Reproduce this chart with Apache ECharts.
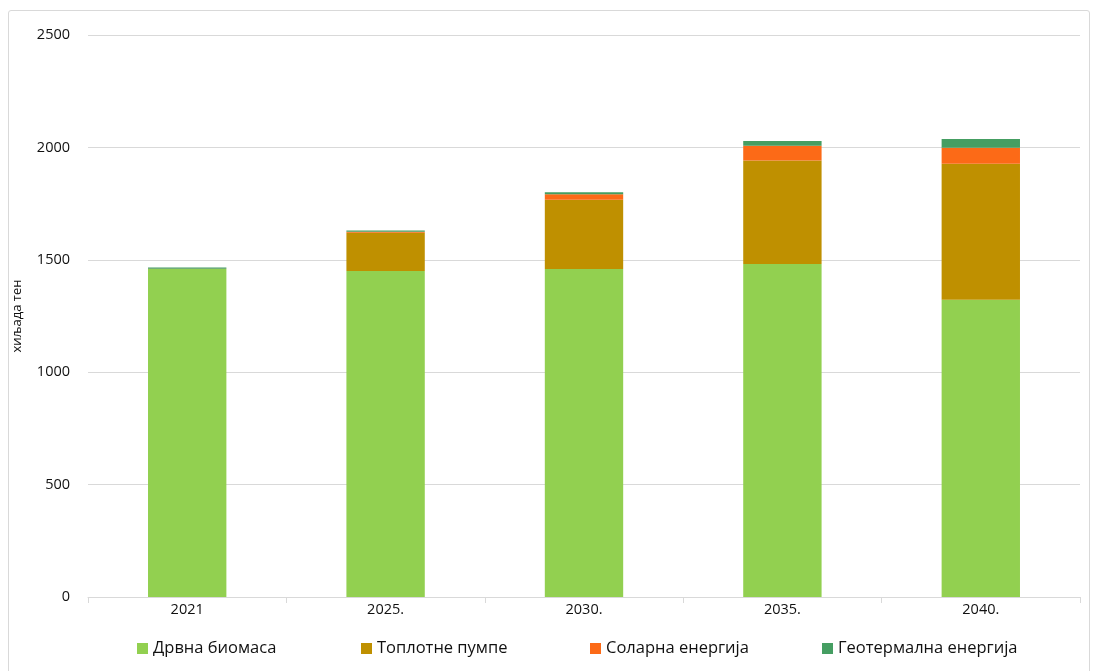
<!DOCTYPE html>
<html>
<head>
<meta charset="utf-8">
<script src="https://cdn.jsdelivr.net/npm/echarts@6/dist/echarts.min.js"></script>
<style>
html,body{margin:0;padding:0;background:#fff;}
#frame{position:absolute;left:8px;top:10px;width:1082px;height:670px;border:1px solid #d9d9d9;border-radius:3px;box-sizing:border-box;}
#chart{position:absolute;left:0;top:0;width:1093px;height:671px;}
</style>
</head>
<body>
<div id="frame"></div>
<div id="chart"></div>
<script>
const categories = ['2021', '2025.', '2030.', '2035.', '2040.'];
const woodBiomass = [1459, 1450, 1459, 1481, 1322];
const heatPumps = [0, 170, 308, 461, 605];
const solar = [1, 5, 25, 65, 71];
const geothermal = [6, 5, 8, 22, 39];
const yTicks = [0, 500, 1000, 1500, 2000, 2500];
const seriesNames = ['Дрвна биомаса', 'Топлотне пумпе', 'Соларна енергија', 'Геотермална енергија'];
const colors = ['#92D050', '#BF9000', '#FC6A17', '#459E62'];

const font = '"Open Sans", Lato, "Noto Sans", sans-serif';
const chart = echarts.init(document.getElementById('chart'));
const dataSets = [woodBiomass, heatPumps, solar, geothermal];
const legendLeft = [137, 361, 590, 822];

chart.setOption({
  animation: false,
  textStyle: {fontFamily: font},
  grid: {left: 88, right: 13, top: 35, bottom: 74},
  legend: seriesNames.map((n, i) => ({
    data: [n], left: legendLeft[i], top: 640, padding: 0, itemWidth: 11, itemHeight: 11, itemGap: 5,
    icon: 'rect', textStyle: {fontSize: 16.5, color: '#111', fontFamily: font}
  })),
  xAxis: {
    type: 'category', data: categories, boundaryGap: true,
    axisLine: {lineStyle: {color: '#d9d9d9', width: 1}},
    axisTick: {show: true, alignWithLabel: false, length: 6, lineStyle: {color: '#d9d9d9'}},
    axisLabel: {color: '#111', fontSize: 14.5, margin: 5}
  },
  yAxis: {
    type: 'value', min: 0, max: 2500, interval: 500,
    name: 'хиљада тен', nameLocation: 'middle', nameGap: 64, nameRotate: 90,
    nameTextStyle: {color: '#111', fontSize: 13},
    axisLine: {show: false}, axisTick: {show: false},
    axisLabel: {color: '#111', fontSize: 14.5, margin: 18,
      formatter: v => yTicks.includes(v) ? String(v) : ''},
    splitLine: {lineStyle: {color: '#d9d9d9', width: 1}}
  },
  series: dataSets.map((d, i) => ({
    name: seriesNames[i], type: 'bar', stack: 'total', data: d, barWidth: '39.5%',
    itemStyle: {color: colors[i]}
  }))
});
</script>
</body>
</html>
